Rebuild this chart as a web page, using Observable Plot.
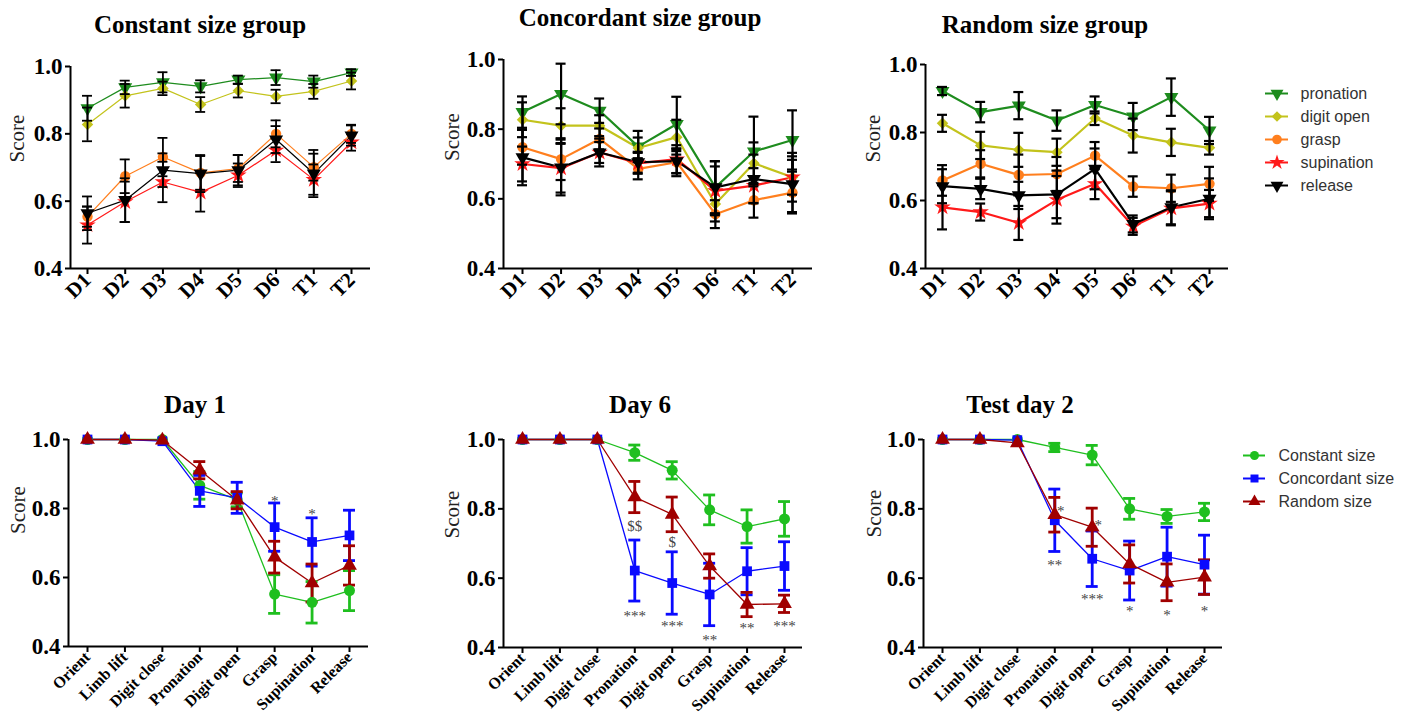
<!DOCTYPE html>
<html><head><meta charset="utf-8">
<script src="https://cdn.jsdelivr.net/npm/d3@7"></script>
<script src="https://cdn.jsdelivr.net/npm/@observablehq/plot@0.6"></script>
<style>
body{margin:0;background:#fff;}
#root{position:relative;width:1414px;height:720px;overflow:hidden;background:#fff;}
#root svg{position:absolute;overflow:visible;}
.title{position:absolute;font-family:"Liberation Serif",serif;font-weight:bold;font-size:25px;color:#000;transform:translateX(-50%);white-space:nowrap;line-height:26px;}
</style></head><body><div id="root"></div>
<script>
// ---------- data ----------
const days = ["D1","D2","D3","D4","D5","D6","T1","T2"];
const movements = ["pronation","digit open","grasp","supination","release"];
const movementColors = ["#1e8c1e","#c3c31c","#ff7f1e","#ff1a1a","#000000"];

// rows follow `movements`
const constantGroupMeans = [
  [0.876,0.938,0.953,0.941,0.961,0.967,0.955,0.982],
  [0.828,0.913,0.935,0.887,0.928,0.911,0.926,0.957],
  [0.554,0.674,0.731,0.684,0.697,0.800,0.701,0.800],
  [0.529,0.598,0.657,0.626,0.677,0.751,0.664,0.775],
  [0.564,0.603,0.692,0.682,0.692,0.783,0.682,0.795]
];
const constantGroupErrors = [
  [0.037,0.020,0.030,0.018,0.012,0.022,0.018,0.010],
  [0.050,0.035,0.020,0.022,0.020,0.020,0.022,0.025],
  [0.030,0.050,0.057,0.050,0.040,0.040,0.040,0.027],
  [0.055,0.060,0.060,0.057,0.035,0.035,0.045,0.025],
  [0.050,0.065,0.050,0.055,0.045,0.040,0.070,0.030]
];
const concordantGroupMeans = [
  [0.849,0.901,0.853,0.750,0.815,0.633,0.736,0.769],
  [0.827,0.810,0.810,0.746,0.777,0.585,0.702,0.662],
  [0.748,0.714,0.772,0.686,0.705,0.556,0.596,0.618],
  [0.700,0.688,0.733,0.702,0.714,0.623,0.638,0.662],
  [0.719,0.690,0.733,0.705,0.708,0.633,0.657,0.642]
];
const concordantGroupErrors = [
  [0.045,0.087,0.035,0.045,0.078,0.075,0.100,0.085],
  [0.050,0.050,0.030,0.030,0.050,0.050,0.060,0.070],
  [0.050,0.060,0.030,0.030,0.040,0.040,0.050,0.060],
  [0.050,0.070,0.030,0.030,0.040,0.070,0.050,0.050],
  [0.080,0.080,0.040,0.030,0.035,0.075,0.070,0.080]
];
const randomGroupMeans = [
  [0.922,0.860,0.879,0.835,0.881,0.847,0.904,0.806],
  [0.827,0.762,0.749,0.742,0.842,0.791,0.771,0.755],
  [0.659,0.708,0.675,0.678,0.732,0.641,0.636,0.649],
  [0.580,0.566,0.534,0.602,0.649,0.524,0.577,0.591],
  [0.642,0.634,0.615,0.618,0.693,0.531,0.580,0.605]
];
const randomGroupErrors = [
  [0.012,0.030,0.040,0.030,0.025,0.040,0.055,0.040],
  [0.025,0.040,0.050,0.040,0.020,0.050,0.040,0.020],
  [0.045,0.040,0.060,0.050,0.040,0.030,0.040,0.050],
  [0.065,0.025,0.050,0.070,0.045,0.025,0.050,0.040],
  [0.050,0.030,0.040,0.070,0.060,0.025,0.050,0.060]
];

const phases = ["Orient","Limb lift","Digit close","Pronation","Digit open","Grasp","Supination","Release"];
const groups = ["Constant size","Concordant size","Random size"];
const groupColors = ["#1fbf1f","#0a0aff","#a00000"];

// rows follow `groups`
const day1Means = [
  [1,1,1,0.867,0.825,0.552,0.528,0.562],
  [1,1,0.995,0.851,0.831,0.746,0.703,0.722],
  [1,1,0.998,0.911,0.824,0.659,0.584,0.635]
];
const day1Errors = [
  [0,0,0,0.040,0.020,0.056,0.060,0.058],
  [0,0,0,0.045,0.045,0.070,0.070,0.073],
  [0,0,0,0.025,0.025,0.046,0.055,0.057]
];
const day6Means = [
  [1,1,1,0.962,0.911,0.797,0.749,0.771],
  [1,1,1,0.622,0.586,0.553,0.620,0.635],
  [1,1,1,0.834,0.784,0.635,0.524,0.526]
];
const day6Errors = [
  [0,0,0,0.022,0.025,0.043,0.048,0.050],
  [0,0,0,0.088,0.090,0.090,0.068,0.070],
  [0,0,0,0.045,0.050,0.035,0.035,0.025]
];
const testDay2Means = [
  [1,1,1,0.977,0.955,0.800,0.778,0.791],
  [1,1,0.998,0.767,0.656,0.622,0.662,0.639],
  [1,1,0.990,0.783,0.747,0.641,0.588,0.603]
];
const testDay2Errors = [
  [0,0,0,0.012,0.028,0.030,0.020,0.025],
  [0,0,0,0.090,0.080,0.085,0.085,0.085],
  [0,0,0,0.050,0.055,0.055,0.053,0.050]
];

// significance marks: phase, score level, label, beside point
const day1Notes = [
  {phase:"Grasp", y:0.833, label:"*"},
  {phase:"Supination", y:0.796, label:"*"}
];
const day6Notes = [
  {phase:"Pronation", y:0.762, label:"$$"},
  {phase:"Digit open", y:0.714, label:"$"},
  {phase:"Pronation", y:0.501, label:"***"},
  {phase:"Digit open", y:0.473, label:"***"},
  {phase:"Grasp", y:0.434, label:"**"},
  {phase:"Supination", y:0.466, label:"**"},
  {phase:"Release", y:0.473, label:"***"}
];
const testDay2Notes = [
  {phase:"Pronation", y:0.805, label:"*", beside:true},
  {phase:"Digit open", y:0.764, label:"*", beside:true},
  {phase:"Pronation", y:0.648, label:"**"},
  {phase:"Digit open", y:0.552, label:"***"},
  {phase:"Grasp", y:0.516, label:"*"},
  {phase:"Supination", y:0.504, label:"*"},
  {phase:"Release", y:0.516, label:"*"}
];

// ---------- drawing ----------
const triangleDown = {
  draw(ctx, size) {
    const y = Math.sqrt(size / (Math.sqrt(3) * 3));
    ctx.moveTo(0, y * 2);
    ctx.lineTo(-Math.sqrt(3) * y, -y);
    ctx.lineTo(Math.sqrt(3) * y, -y);
    ctx.closePath();
  }
};
const movementSymbols = [triangleDown, "diamond2", "circle", "star", triangleDown];
const groupSymbols = ["circle", "square", "triangle"];

const SERIF = "Liberation Serif, Times New Roman, serif";
const SANS = "Liberation Sans, Arial, sans-serif";
const root = document.getElementById("root");

function panel(o) {
  const n = o.cats.length;
  const step = (o.last - o.first) / (n - 1);
  const xLo = (o.x0 - o.first) / step;
  const xHi = (n - 1) + (o.x1 - o.last) / step;
  const cw = o.capPx / step;
  const lines = [], dots = [], bars = [];
  o.names.forEach((name, s) => {
    const rows = o.means[s].map((v, i) => ({i, v, e: o.errors[s][i]}));
    const eb = rows.filter(d => d.e > 0);
    const ec = o.errColor || o.colors[s];
    lines.push(Plot.line(rows, {x: "i", y: "v", stroke: o.colors[s], strokeWidth: o.lineWidth}));
    dots.push(Plot.dot(rows, {x: "i", y: "v", r: o.dotR, symbol: o.symbols[s], fill: o.colors[s], stroke: "none"}));
    bars.push(Plot.ruleX(eb, {x: "i", y1: d => d.v - d.e, y2: d => d.v + d.e, stroke: ec, strokeWidth: o.errWidth}));
    bars.push(Plot.ruleY(eb, {y: d => d.v + d.e, x1: d => d.i - cw, x2: d => d.i + cw, stroke: ec, strokeWidth: o.errWidth}));
    bars.push(Plot.ruleY(eb, {y: d => d.v - d.e, x1: d => d.i - cw, x2: d => d.i + cw, stroke: ec, strokeWidth: o.errWidth}));
  });
  const notes = o.notes ? [Plot.text(o.notes, {
    x: d => o.cats.indexOf(d.phase) + (d.beside ? 6 / step : 0),
    y: "y", text: "label", fontSize: 15, fontFamily: SERIF, fill: "#444", dy: 4
  })] : [];
  const svg = Plot.plot({
    width: o.width, height: o.height,
    marginLeft: o.x0 - o.left, marginRight: o.left + o.width - o.x1,
    marginTop: o.yTop - o.top, marginBottom: o.top + o.height - o.yBot,
    x: {domain: [xLo, xHi]},
    y: {domain: [0.4, 1.0]},
    style: {background: "transparent", overflow: "visible", color: "#000"},
    marks: [
      ...lines, ...(o.barsFirst ? bars : []), ...dots, ...(o.barsFirst ? [] : bars), ...notes,
      Plot.ruleX([xLo], {strokeWidth: 2}),
      Plot.ruleY([0.4], {strokeWidth: 2}),
      Plot.axisY({ticks: [0.4, 0.6, 0.8, 1.0], tickFormat: d3.format(".1f"), tickSize: 5, tickPadding: 3,
        strokeWidth: 2, fontSize: 23, fontWeight: "bold", fontFamily: SERIF, label: null}),
      Plot.axisX({ticks: d3.range(n), tickFormat: i => o.cats[i], tickSize: 6, tickPadding: 2,
        tickRotate: -45, strokeWidth: 2, fontSize: o.tickFont, fontWeight: "bold", fontFamily: SERIF, label: null}),
      Plot.text(["Score"], {frameAnchor: "left", rotate: -90, dx: o.scoreX - o.x0, dy: o.scoreDy,
        fontSize: 21, fontFamily: SERIF, fill: "#222"})
    ]
  });
  svg.style.left = o.left + "px";
  svg.style.top = o.top + "px";
  root.appendChild(svg);
}

function legend(o) {
  const marks = [];
  o.names.forEach((name, s) => {
    marks.push(Plot.ruleY([name], {y: d => d, stroke: o.colors[s], strokeWidth: 2}));
    marks.push(Plot.dot([name], {y: d => d, frameAnchor: "middle", r: o.r, symbol: o.symbols[s], fill: o.colors[s]}));
  });
  marks.push(Plot.text(o.names, {y: d => d, text: d => d, frameAnchor: "right", dx: o.textGap, textAnchor: "start",
    fontSize: 16, fontFamily: SANS, fill: "#333"}));
  const svg = Plot.plot({
    width: o.width, height: o.height,
    marginLeft: o.lineX0 - o.left, marginRight: o.left + o.width - o.lineX1,
    marginTop: 0, marginBottom: 0,
    y: {type: "point", padding: 0, domain: o.names, range: [o.row0 - o.top, o.row1 - o.top], axis: null},
    style: {background: "transparent", overflow: "visible"},
    marks
  });
  svg.style.left = o.left + "px";
  svg.style.top = o.top + "px";
  root.appendChild(svg);
}

function title(text, cx, cy) {
  const d = document.createElement("div");
  d.className = "title";
  d.textContent = text;
  d.style.left = cx + "px";
  d.style.top = (cy - 13) + "px";
  root.appendChild(d);
}

const topCommon = {cats: days, names: movements, colors: movementColors, symbols: movementSymbols,
  tickFont: 21, errColor: "#000", errWidth: 1.8, capPx: 5, dotR: 5.2, top: 40, height: 300};
panel({...topCommon, left: 0, width: 400, x0: 70, x1: 370, yTop: 66, yBot: 268, first: 87, last: 351,
  means: constantGroupMeans, errors: constantGroupErrors, lineWidth: 1.2, scoreX: 17, scoreDy: -5});
panel({...topCommon, left: 430, width: 400, x0: 503, x1: 812, yTop: 59, yBot: 268, first: 522, last: 792,
  means: concordantGroupMeans, errors: concordantGroupErrors, lineWidth: 2.2, errWidth: 2.2, scoreX: 452, scoreDy: -3});
panel({...topCommon, left: 850, width: 390, x0: 925, x1: 1228, yTop: 64, yBot: 268, first: 942, last: 1209,
  means: randomGroupMeans, errors: randomGroupErrors, lineWidth: 2.2, errWidth: 2.2, scoreX: 873, scoreDy: -4});

const botCommon = {cats: phases, names: groups, colors: groupColors, symbols: groupSymbols,
  tickFont: 16, errWidth: 2.8, capPx: 6, dotR: 5.5, lineWidth: 1.3, top: 400, height: 320, barsFirst: true};
panel({...botCommon, left: 0, width: 400, x0: 68, x1: 368, yTop: 439, yBot: 646, first: 87, last: 349,
  means: day1Means, errors: day1Errors, notes: day1Notes, scoreX: 18, scoreDy: -9});
panel({...botCommon, left: 430, width: 400, x0: 503, x1: 802, yTop: 439, yBot: 647, first: 522, last: 784,
  means: day6Means, errors: day6Errors, notes: day6Notes, scoreX: 452, scoreDy: -5});
panel({...botCommon, left: 850, width: 390, x0: 923, x1: 1222, yTop: 439, yBot: 647, first: 942, last: 1204,
  means: testDay2Means, errors: testDay2Errors, notes: testDay2Notes, scoreX: 874, scoreDy: -6});

legend({names: movements, colors: movementColors, symbols: movementSymbols, r: 4.8,
  left: 1255, top: 70, width: 159, height: 140, lineX0: 1265, lineX1: 1288, row0: 92, row1: 186, textGap: 12});
legend({names: groups, colors: groupColors, symbols: groupSymbols, r: 4.5,
  left: 1233, top: 440, width: 181, height: 80, lineX0: 1243, lineX1: 1265, row0: 454, row1: 501, textGap: 13});

title("Constant size group", 200, 25);
title("Concordant size group", 640, 18);
title("Random size group", 1045, 25);
title("Day 1", 195, 405);
title("Day 6", 640, 405);
title("Test day 2", 1020, 405);
</script></body></html>
